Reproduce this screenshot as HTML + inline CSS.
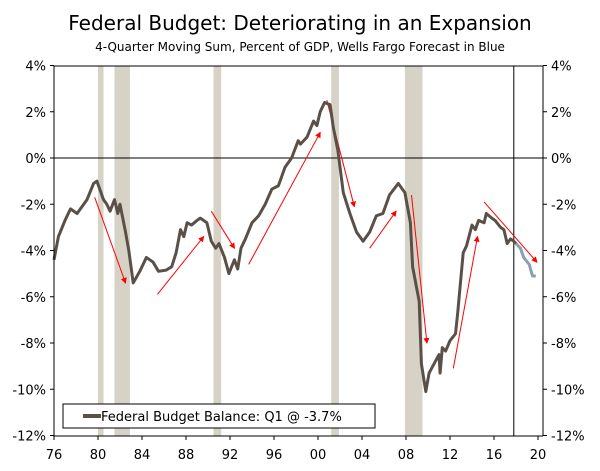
<!DOCTYPE html>
<html><head><meta charset="utf-8"><style>
body{margin:0;background:#fff;width:600px;height:467px;overflow:hidden;font-family:"DejaVu Sans","Liberation Sans",sans-serif}
svg text{font-family:"DejaVu Sans","Liberation Sans",sans-serif}
</style></head><body>
<svg id="chart" width="600" height="467" xmlns="http://www.w3.org/2000/svg">
<text x="300" y="30" text-anchor="middle" font-size="20" fill="#000">Federal Budget: Deteriorating in an Expansion</text>
<text x="300" y="51" text-anchor="middle" font-size="12" fill="#000">4-Quarter Moving Sum, Percent of GDP, Wells Fargo Forecast in Blue</text>
<g id="rec"></g><g id="grid"></g><g id="arrows"></g><g id="series"></g><g id="axes"></g>
<g>
<rect x="63" y="404" width="312" height="24" fill="#fff" stroke="#000" stroke-width="1"/>
<line x1="83" y1="416" x2="101" y2="416" stroke="#5a5048" stroke-width="4"/>
<text x="101" y="421" font-size="13" fill="#000">Federal Budget Balance: Q1 @ -3.7%</text>
</g>
</svg>
<script>
const years=[1976.0,1976.4,1977.0,1977.5,1978.1,1979.0,1979.6,1979.9,1980.5,1980.8,1981.1,1981.5,1981.8,1982.0,1982.5,1982.8,1983.2,1983.8,1984.4,1985.0,1985.5,1986.2,1986.7,1987.1,1987.5,1987.8,1988.1,1988.5,1989.0,1989.3,1989.9,1990.3,1990.7,1991.0,1991.5,1991.9,1992.4,1992.7,1993.0,1993.4,1994.0,1994.6,1995.2,1995.8,1996.4,1997.0,1997.6,1998.2,1998.4,1999.0,1999.6,1999.9,2000.2,2000.6,2001.1,2001.4,2001.8,2002.3,2002.9,2003.5,2004.1,2004.7,2005.3,2005.9,2006.5,2007.3,2007.9,2008.4,2008.6,2009.2,2009.4,2009.8,2010.1,2011.0,2011.1,2011.3,2011.6,2012.0,2012.5,2012.7,2013.2,2013.5,2014.0,2014.3,2014.6,2015.1,2015.3,2015.8,2016.1,2016.6,2016.9,2017.2,2017.5,2017.8,2018.0];
const balance=[-4.4,-3.4,-2.7,-2.2,-2.4,-1.8,-1.1,-1.0,-1.8,-2.0,-2.3,-1.8,-2.4,-2.0,-3.2,-4.0,-5.4,-4.9,-4.3,-4.5,-4.9,-4.85,-4.7,-4.1,-3.1,-3.4,-2.8,-2.9,-2.7,-2.6,-2.8,-3.6,-3.9,-3.7,-4.3,-5.0,-4.4,-4.8,-3.9,-3.5,-2.8,-2.5,-2.0,-1.35,-1.2,-0.4,0.0,0.75,0.6,0.9,1.6,1.4,2.0,2.4,2.3,1.3,0.35,-1.5,-2.4,-3.2,-3.6,-3.2,-2.5,-2.4,-1.6,-1.1,-1.5,-2.8,-4.7,-6.2,-8.9,-10.1,-9.3,-8.5,-9.3,-8.2,-8.35,-7.9,-7.6,-6.7,-4.1,-3.8,-2.9,-3.1,-2.7,-2.8,-2.4,-2.6,-2.7,-3.0,-3.1,-3.7,-3.5,-3.6,-3.7];
const fcYears=[2018.0,2018.4,2018.7,2019.2,2019.5,2019.8];
const forecast=[-3.7,-3.9,-4.3,-4.6,-5.1,-5.1];
const recStart=[1980.0,1981.5,1990.5,2001.2,2007.9];
const recEnd=[1980.5,1982.9,1991.2,2001.9,2009.5];
const yTicks=[4,2,0,-2,-4,-6,-8,-10,-12];
const xTicks=[1976,1980,1984,1988,1992,1996,2000,2004,2008,2012,2016,2020];
const arrowsFrom=[[1979.7,-1.7],[1985.4,-5.9],[1990.3,-2.3],[1993.7,-4.6],[2000.8,2.5],[2004.7,-3.9],[2008.5,-1.6],[2012.3,-9.1],[2015.1,-1.9]];
const arrowsTo=[[1982.5,-5.4],[1989.6,-3.4],[1992.4,-3.9],[2000.2,1.1],[2003.3,-2.1],[2007.1,-2.3],[2009.9,-8.0],[2014.5,-3.4],[2019.9,-4.5]];
const L=54,R=543,T=66,B=436;
const X=y=>L+(y-1976)*11;
const Y=v=>158-v*(B-T)/16;
const NS="http://www.w3.org/2000/svg";
function mk(tag,parent,attrs){const e=document.createElementNS(NS,tag);for(const k in attrs)e.setAttribute(k,attrs[k]);document.getElementById(parent).appendChild(e);return e;}
recStart.forEach((s,i)=>{const r=mk('rect','rec',{x:X(s),y:T,width:X(recEnd[i])-X(s),height:B-T,fill:'#d6d2c6'});

});
let z=mk('line','grid',{x1:L,x2:R,y1:Y(0),y2:Y(0),stroke:'#000','stroke-width':1});


let v=mk('line','grid',{x1:X(2017.8),x2:X(2017.8),y1:T,y2:B,stroke:'#000','stroke-width':1});


const defs=document.createElementNS(NS,'defs');defs.innerHTML='<marker id="ah" markerWidth="6" markerHeight="6" refX="5" refY="3" orient="auto"><path d="M0,0 L6,3 L0,6 z" fill="#f00"/></marker>';document.getElementById('chart').prepend(defs);
arrowsFrom.forEach((f,i)=>{const t=arrowsTo[i];const a=mk('line','arrows',{x1:X(f[0]),y1:Y(f[1]),x2:X(t[0]),y2:Y(t[1]),stroke:'#f00','stroke-width':1,'marker-end':'url(#ah)'});

});
let p=mk('polyline','series',{points:years.map((y,i)=>X(y)+','+Y(balance[i])).join(' '),fill:'none',stroke:'#5a5048','stroke-width':3,'stroke-linejoin':'round'});


let f=mk('polyline','series',{points:fcYears.map((y,i)=>X(y)+','+Y(forecast[i])).join(' '),fill:'none',stroke:'#8aa0b0','stroke-width':3,'stroke-linejoin':'round'});


mk('line','axes',{x1:L,x2:L,y1:T,y2:B,stroke:'#000'});
mk('line','axes',{x1:R,x2:R,y1:T,y2:B,stroke:'#000'});
mk('line','axes',{x1:L,x2:R,y1:B,y2:B,stroke:'#000'});
mk('line','axes',{x1:L,x2:R,y1:T,y2:T,stroke:'#000'});
yTicks.forEach(t=>{const y=Y(t);
mk('line','axes',{x1:L-4,x2:L,y1:y,y2:y,stroke:'#000'});
mk('line','axes',{x1:R,x2:R+4,y1:y,y2:y,stroke:'#000'});
const a=mk('text','axes',{x:L-8,y:y+5,'text-anchor':'end','font-size':13});a.textContent=t+'%';


const b=mk('text','axes',{x:R+8,y:y+5,'font-size':13});b.textContent=t+'%';

});
xTicks.forEach(t=>{const x=X(t);
mk('line','axes',{x1:x,x2:x,y1:B,y2:B+4,stroke:'#000'});
const a=mk('text','axes',{x:x,y:B+23,'text-anchor':'middle','font-size':13});a.textContent=String(t).slice(2);

});
</script>
</body></html>
